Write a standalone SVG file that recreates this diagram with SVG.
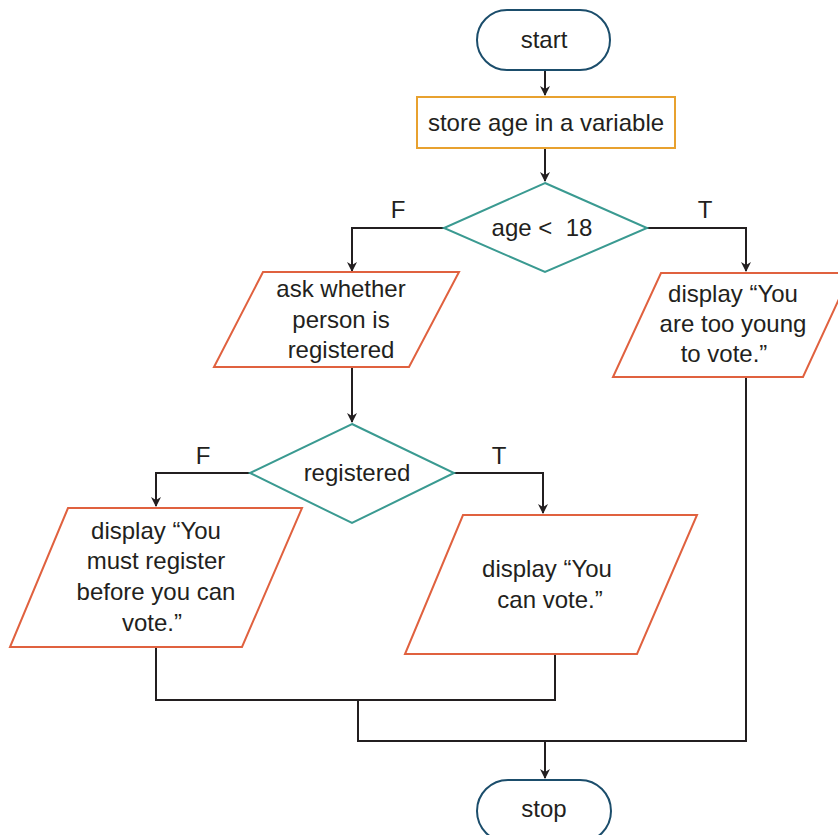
<svg xmlns="http://www.w3.org/2000/svg" width="838" height="835" viewBox="0 0 838 835">
<style>
text{font-family:"Liberation Sans",Arial,sans-serif;font-size:24px;fill:#231f20;text-anchor:middle}
.term{fill:#fff;stroke:#1b4d6b;stroke-width:2}
.proc{fill:#fff;stroke:#e8a12f;stroke-width:2}
.dec{fill:#fff;stroke:#3a9a91;stroke-width:2}
.io{fill:#fff;stroke:#e0613f;stroke-width:2}
.ln{fill:none;stroke:#231f20;stroke-width:2}
</style>
<defs>
<marker id="ah" markerWidth="10" markerHeight="12" refX="9" refY="6" orient="auto" markerUnits="userSpaceOnUse">
<path d="M0,1 L10,6 L0,11 L3,6 Z" fill="#231f20"/>
</marker>
</defs>
<rect width="838" height="835" fill="#fff"/>
<g id="connectors">
<path class="ln" d="M545,70 V95" marker-end="url(#ah)"/>
<path class="ln" d="M545,148 V181" marker-end="url(#ah)"/>
<path class="ln" d="M444,228 H352 V271" marker-end="url(#ah)"/>
<path class="ln" d="M647,228 H746 V271" marker-end="url(#ah)"/>
<path class="ln" d="M352,367 V422" marker-end="url(#ah)"/>
<path class="ln" d="M250,473 H156 V506" marker-end="url(#ah)"/>
<path class="ln" d="M454,473 H543 V513" marker-end="url(#ah)"/>
<path class="ln" d="M156,647 V700 H555 V654"/>
<path class="ln" d="M358,700 V741 H746 V377"/>
<path class="ln" d="M545,741 V778" marker-end="url(#ah)"/>
<text x="398" y="218">F</text>
<text x="705" y="218">T</text>
<text x="203" y="464">F</text>
<text x="499" y="464">T</text>
</g>
<g id="start">
<rect class="term" x="477" y="10" width="133" height="60" rx="30" ry="30"/>
<text x="544" y="48">start</text>
</g>
<g id="store">
<rect class="proc" x="417" y="97" width="258" height="51"/>
<text x="546" y="131">store age in a variable</text>
</g>
<g id="age18">
<polygon class="dec" points="545,183 647,228 545,272 444,228"/>
<text x="542" y="236">age &lt;&#160; 18</text>
</g>
<g id="ask">
<polygon class="io" points="263,272 459,272 409,367 214,367"/>
<text x="341" y="297">ask whether</text>
<text x="341" y="328">person is</text>
<text x="341" y="358">registered</text>
</g>
<g id="tooyoung">
<polygon class="io" points="661,273 851,273 803,377 613,377"/>
<text x="733" y="302">display “You</text>
<text x="733" y="332">are too young</text>
<text x="724" y="362">to vote.”</text>
</g>
<g id="registered">
<polygon class="dec" points="352,424 454,473 352,523 250,473"/>
<text x="357" y="481">registered</text>
</g>
<g id="mustregister">
<polygon class="io" points="68,508 302,508 242,647 10,647"/>
<text x="156" y="539">display “You</text>
<text x="156" y="569">must register</text>
<text x="156" y="600">before you can</text>
<text x="152" y="631">vote.”</text>
</g>
<g id="canvote">
<polygon class="io" points="463,515 697,515 637,654 405,654"/>
<text x="547" y="577">display “You</text>
<text x="550" y="608">can vote.”</text>
</g>
<g id="stop">
<rect class="term" x="477" y="780" width="134" height="62" rx="31" ry="31"/>
<text x="544" y="817">stop</text>
</g>
</svg>
